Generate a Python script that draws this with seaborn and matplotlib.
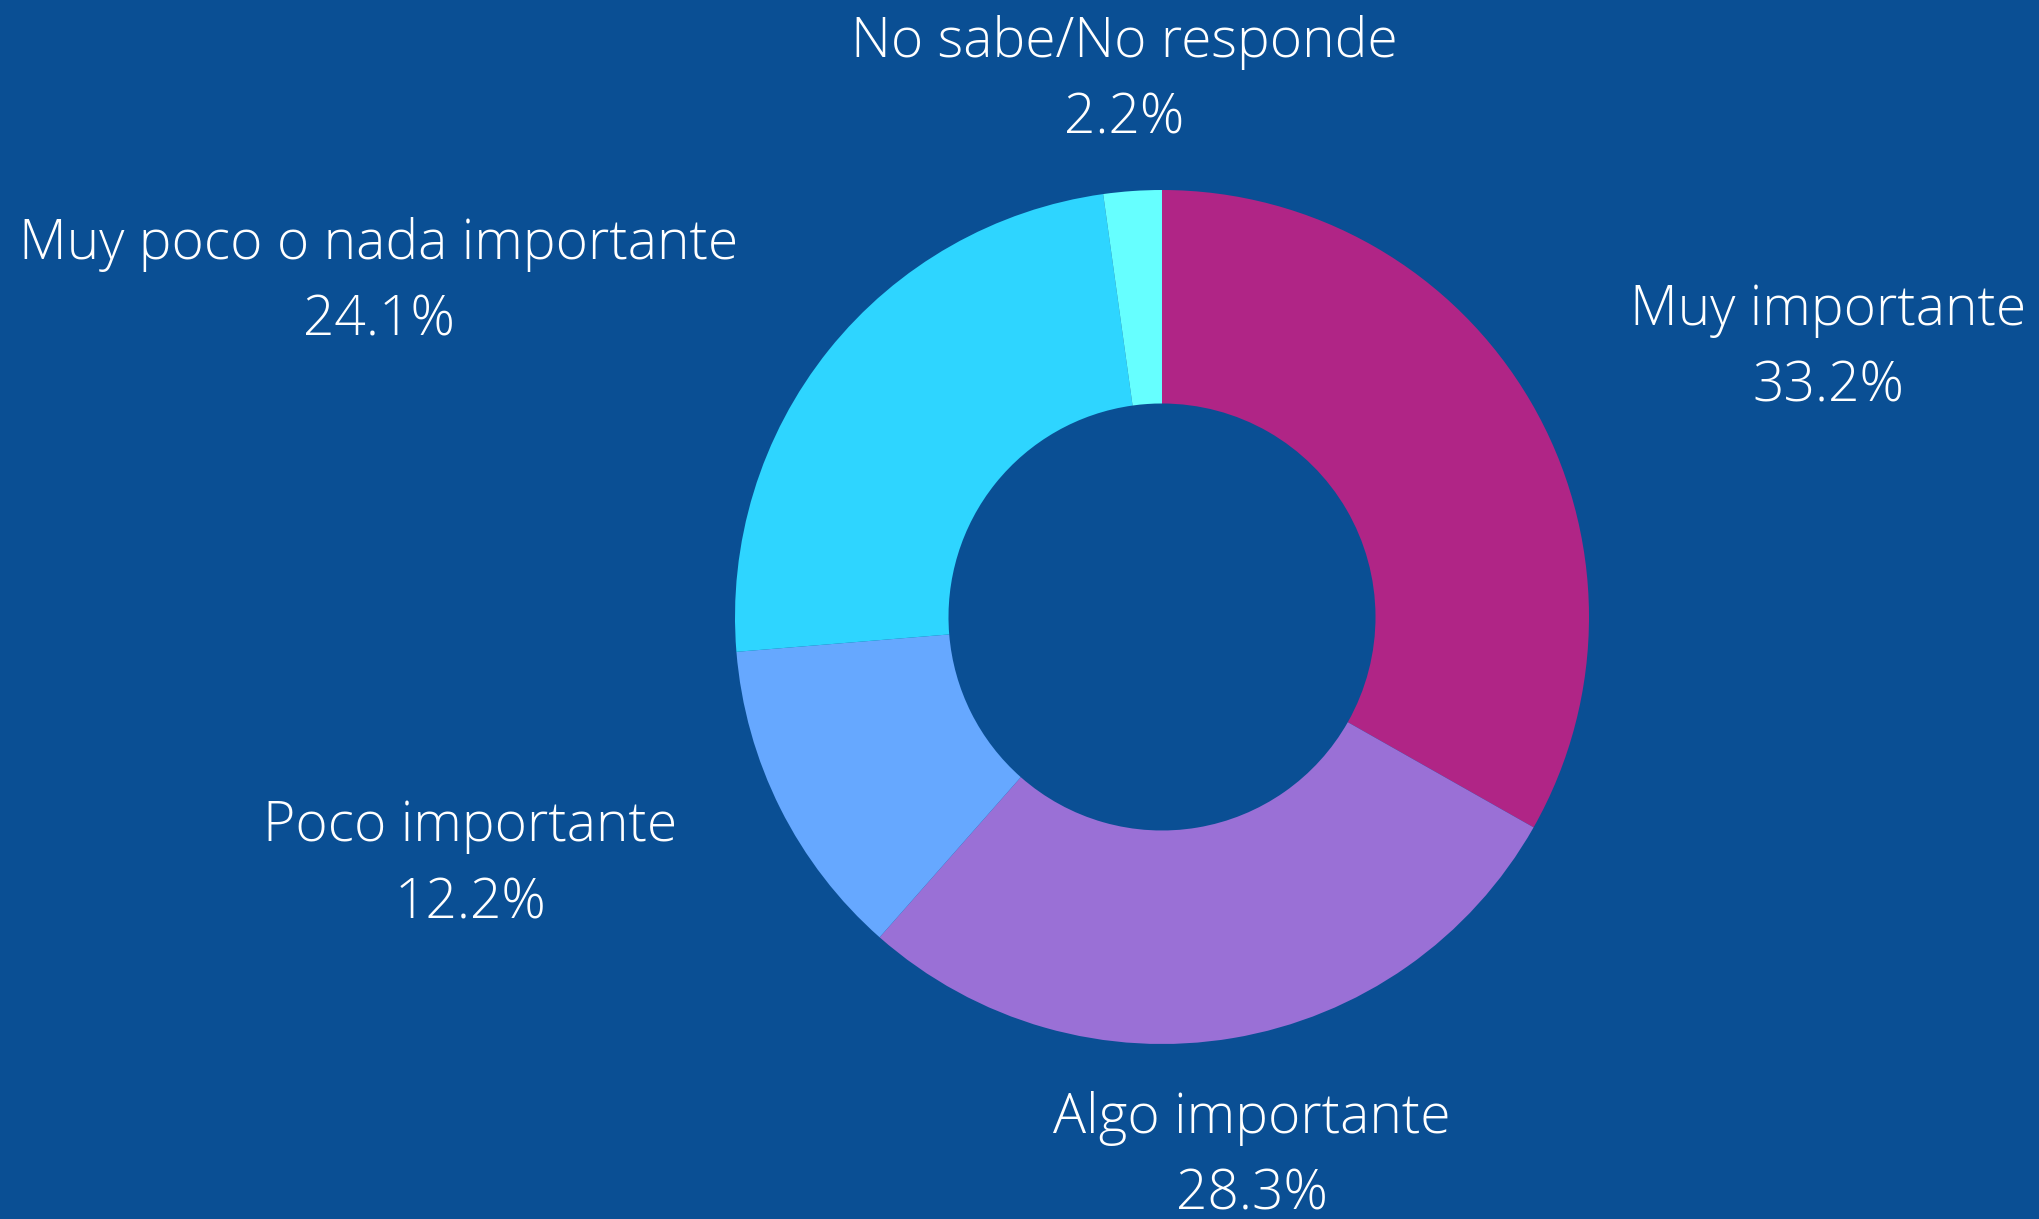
import matplotlib
matplotlib.use("Agg")
import matplotlib.pyplot as plt
import seaborn as sns

categories = ["Muy importante", "Algo importante", "Poco importante",
              "Muy poco o nada importante", "No sabe/No responde"]
values = [33.2, 28.3, 12.2, 24.1, 2.2]
colors = ["#B02586", "#9A70D6", "#66A8FF", "#2ED5FF", "#66FFFF"]
bg = "#0A4F94"

sns.set_theme(style="white")
plt.rcParams["font.family"] = ["Open Sans", "DejaVu Sans"]

W, H = 2040, 1219
fig = plt.figure(figsize=(W / 100, H / 100), dpi=100, facecolor=bg)
ax = fig.add_axes([0, 0, 1, 1])
ax.set_facecolor(bg)

cx, cy, R = 1162, H - 617, 427
ax.pie(values, colors=sns.color_palette(colors), startangle=90, counterclock=False,
       radius=R, center=(cx, cy), frame=True,
       wedgeprops=dict(width=R * 0.5, linewidth=0, antialiased=True))
ax.set_xlim(0, W)
ax.set_ylim(0, H)
ax.set_aspect("equal")
ax.axis("off")

label_pos = [(1828, 310), (1252, 1118), (470, 827), (379, 244), (1124, 42)]
for cat, v, (x, y) in zip(categories, values, label_pos):
    ax.text(x, H - y, cat, ha="center", va="center", color="white",
            fontsize=39.7, fontweight="light")
    ax.text(x, H - y - 77, f"{v:.1f}%", ha="center", va="center", color="white",
            fontsize=39.7, fontweight="light")

fig.savefig("out.png", dpi=100, facecolor=bg)
